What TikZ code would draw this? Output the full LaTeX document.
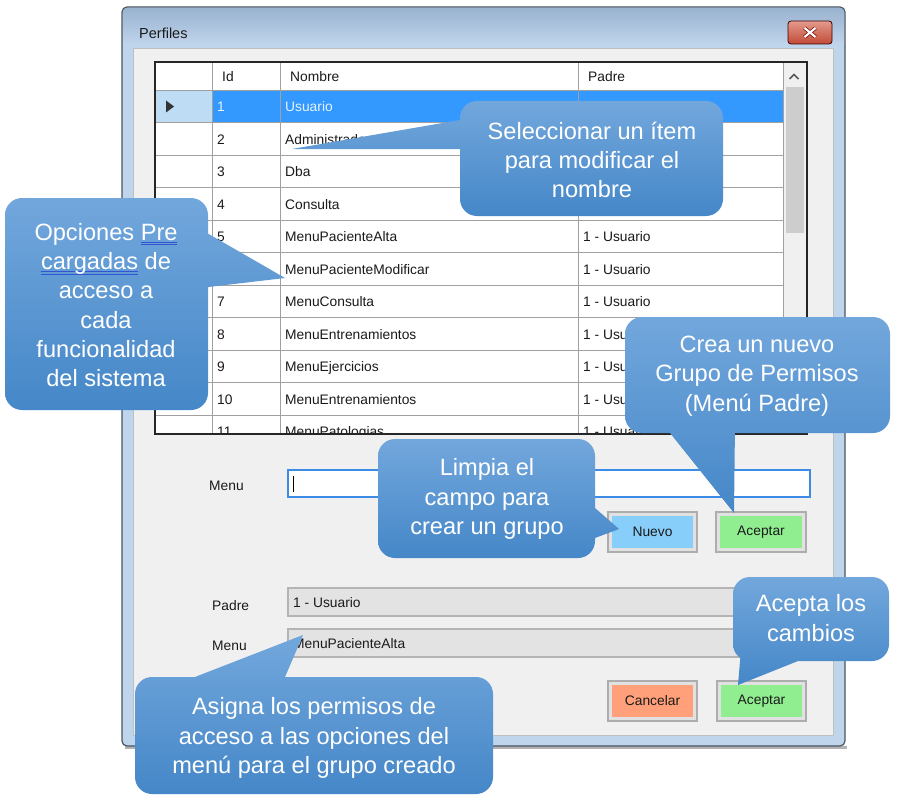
\documentclass[tikz,border=0pt]{standalone}
\usepackage{fontspec}
\setmainfont{Liberation Sans}
\definecolor{winframe}{HTML}{BFD5EC}
\definecolor{titletop}{HTML}{99B2CF}
\definecolor{titlebot}{HTML}{C4D8EE}
\definecolor{winborder}{HTML}{4A5560}
\definecolor{client}{HTML}{F0F0F0}
\definecolor{gridline}{HTML}{A0A0A0}
\definecolor{selblue}{HTML}{3399FF}
\definecolor{selhdr}{HTML}{BEDCF4}
\definecolor{thumb}{HTML}{CDCDCD}
\definecolor{wintext}{HTML}{1A1A1A}
\definecolor{seltext}{HTML}{E6F2FF}
\definecolor{btnborder}{HTML}{ADADAD}
\definecolor{btnbg}{HTML}{E1E1E1}
\definecolor{nuevobg}{HTML}{87CEFA}
\definecolor{okbg}{HTML}{90EE90}
\definecolor{cancelbg}{HTML}{FFA07A}
\definecolor{rofill}{HTML}{E3E3E3}
\definecolor{roborder}{HTML}{B4B4B4}
\definecolor{focusblue}{HTML}{3C8CE6}
\definecolor{ctop}{HTML}{72A7DC}
\definecolor{cbot}{HTML}{4587C8}
\definecolor{closetop}{HTML}{E39A8C}
\definecolor{closebot}{HTML}{C24A36}
\definecolor{ulblue}{HTML}{3355D0}
\newsavebox\ulbox
\newcommand\spellul[1]{\sbox\ulbox{#1}\rlap{\textcolor{ulblue}{\rule[-2.5pt]{\wd\ulbox}{0.8pt}}}\rlap{\textcolor{ulblue}{\rule[-5pt]{\wd\ulbox}{0.8pt}}}\usebox\ulbox}
\begin{document}
\begin{tikzpicture}[x=1pt,y=-1pt,
  wtxt/.style={font=\fontsize{13.8}{16}\selectfont, text=wintext, inner sep=0pt, anchor=base west},
  btxt/.style={font=\fontsize{13.8}{16}\selectfont, text=wintext, inner sep=0pt},
  ctxt/.style={font=\fontsize{23.6}{29.3}\selectfont, text=white, align=center, inner sep=0pt},
  cshape/.style={top color=ctop, bottom color=cbot, draw=none},
  gline/.style={draw=gridline, line width=0.9pt},
  btnout/.style={draw=btnborder, fill=btnbg, line width=1.3pt},
  tbox/.style={draw=roborder, fill=rofill, line width=1.5pt}]
\useasboundingbox (0,0) rectangle (898,800);
\fill[white] (0,0) rectangle (898,800);
% window frame
\fill[black!30] (125,746) rectangle (847,749);
\draw[winborder, fill=winframe, line width=1.2pt, rounded corners=5] (122,746) -- (122,7) -- (845,7) -- (845,746) -- cycle;
\shade[top color=titletop, bottom color=titlebot, rounded corners=4] (123,48) -- (123,8) -- (844,8) -- (844,48) -- cycle;
\fill[winframe] (123,44) rectangle (844,48);
\draw[fill=client, draw=black!25, line width=0.6pt] (133,48) rectangle (833,735);
\node[font=\fontsize{14.5}{17}\selectfont, text=wintext, inner sep=0pt, anchor=base west] (title) at (139,39) {Perfiles};
% close button
\shade[top color=closetop, bottom color=closebot, rounded corners=3] (788,21) rectangle (832,44);
\draw[draw=black!60!red!60!black, line width=0.8pt, rounded corners=3] (788,21) rectangle (832,44);
\draw[line width=3.6pt, black!55!red] (804.5,28) -- (815.5,37) (815.5,28) -- (804.5,37);
\draw[line width=2.2pt, white] (804.5,28) -- (815.5,37) (815.5,28) -- (804.5,37);
% grid
\fill[white] (155,62) rectangle (807,434);
\begin{scope}
\clip (156,63) rectangle (806,433);
\fill[selhdr] (156,90) rectangle (212,122.5);
\fill[selblue] (212,90) rectangle (783,122.5);
\fill[black!80] (166,100.5) -- (174,106.5) -- (166,112.5) -- cycle;
\fill[client] (783,62) rectangle (806,434);
\fill[thumb] (785.5,87) rectangle (803.5,233);
\draw[line width=1.6pt, black!65] (789.5,79) -- (794,74.5) -- (798.5,79);
\foreach \i in {1,...,11} {
  \pgfmathsetmacro\yl{90+32.5*\i}
  \draw[gline] (156,\yl) -- (783,\yl);
}
\draw[gline] (156,90) -- (783,90);
\draw[gline] (212,62) -- (212,434);
\draw[gline] (280,62) -- (280,434);
\draw[gline] (578,62) -- (578,434);
\draw[gline] (783,62) -- (783,434);
\node[wtxt] (hid) at (222,82) {Id};
\node[wtxt] (hnom) at (290,82) {Nombre};
\node[wtxt] (hpad) at (588,82) {Padre};
\node[wtxt, text=seltext] (id1) at (217,111.75) {1};
\node[wtxt, text=seltext] (nm1) at (285,111.75) {Usuario};
\foreach \i/\idv/\nom/\pad in {2/2/Administrador/{},3/3/Dba/{},4/4/Consulta/{},5/5/MenuPacienteAlta/1 - Usuario,6/6/MenuPacienteModificar/1 - Usuario,7/7/MenuConsulta/1 - Usuario,8/8/MenuEntrenamientos/1 - Usuario,9/9/MenuEjercicios/1 - Usuario,10/10/MenuEntrenamientos/1 - Usuario,11/11/MenuPatologias/1 - Usuario}{
  \pgfmathsetmacro\yb{90+32.5*(\i-0.5)+5.5}
  \node[wtxt] (id\i) at (217,\yb) {\idv};
  \node[wtxt] (nm\i) at (285,\yb) {\nom};
  \node[wtxt] (pd\i) at (583,\yb) {\pad};
}
\end{scope}
\draw[black!85, line width=1.4pt] (155,62) rectangle (807,434);
% lower form
\node[wtxt] (lmenu1) at (209,490) {Menu};
\draw[fill=white, draw=focusblue, line width=1.2pt] (288,470) rectangle (810,497);
\draw[black, line width=1.1pt] (293.5,476) -- (293.5,492);
\draw[btnout] (608,512) rectangle (697,552);
\node[btxt, fill=nuevobg, minimum width=81pt, minimum height=32pt] (nuevo) at (652.5,532) {Nuevo};
\draw[btnout] (716,512) rectangle (806,552);
\node[btxt, fill=okbg, minimum width=82pt, minimum height=32pt] (acep1) at (761,532) {Aceptar};
\node[wtxt] (lpadre) at (212,610) {Padre};
\draw[tbox] (288,588) rectangle (810,616);
\node[wtxt] (vpadre) at (293,607) {1 - Usuario};
\node[wtxt] (lmenu2) at (212,650) {Menu};
\draw[tbox] (288,629) rectangle (810,657);
\node[wtxt] (vmenu) at (293,648) {MenuPacienteAlta};
\draw[btnout] (608,681) rectangle (697,721);
\node[btxt, fill=cancelbg, minimum width=81pt, minimum height=32pt] (cancel) at (652.5,701) {Cancelar};
\draw[btnout] (717,681) rectangle (806,721);
\node[btxt, fill=okbg, minimum width=81pt, minimum height=32pt] (acep2) at (761.5,701) {Aceptar};
% callouts
\shade[cshape] [rounded corners=17] (460,101) -- (723,101) -- (723,216) -- (460,216) -- cycle
  [sharp corners] (292,149) -- (468,118.6) -- (468,149) -- cycle;
\node[ctxt] (c1) at (592,160) {Seleccionar un ítem\\para modificar el\\nombre};
\shade[cshape] [rounded corners=17] (5,198) -- (208,198) -- (208,410) -- (5,410) -- cycle
  [sharp corners] (200,229) -- (285,278) -- (200,288) -- cycle;
\node[ctxt] (c2) at (106,305) {Opciones \spellul{Pre}\\\spellul{cargadas} de\\acceso a\\cada\\funcionalidad\\del sistema};
\shade[cshape] [rounded corners=17] (625,317) -- (890,317) -- (890,433) -- (625,433) -- cycle
  [sharp corners] (663.6,425) -- (735,425) -- (734,513) -- cycle;
\node[ctxt] (c3) at (757,376) {Crea un nuevo\\Grupo de Permisos\\(Menú Padre)};
\shade[cshape] [rounded corners=17] (378,439) -- (595,439) -- (595,558) -- (378,558) -- cycle
  [sharp corners] (587,501) -- (619,529) -- (587,541) -- cycle;
\node[ctxt] (c4) at (487,499) {Limpia el\\campo para\\crear un grupo};
\shade[cshape] [rounded corners=17] (733,577) -- (889,577) -- (889,661) -- (733,661) -- cycle
  [sharp corners] (740.7,653) -- (818,653) -- (738,685) -- cycle;
\node[ctxt] (c5) at (811,618) {Acepta los\\cambios};
\shade[cshape] [rounded corners=17] (135,677) -- (493,677) -- (493,794) -- (135,794) -- cycle
  [sharp corners] (174.4,685) -- (303,635) -- (281.6,685) -- cycle;
\node[ctxt] (c6) at (314,738) {Asigna los permisos de\\acceso a las opciones del\\menú para el grupo creado};
\end{tikzpicture}
\end{document}
